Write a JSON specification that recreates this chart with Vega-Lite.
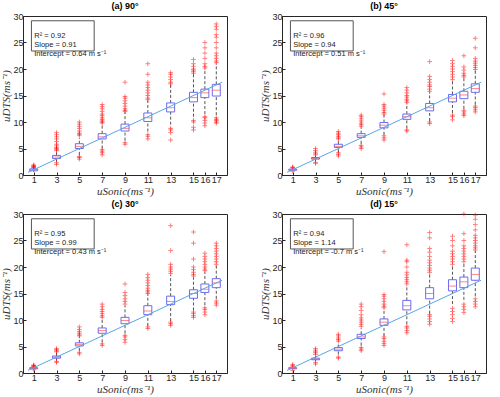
{
  "$schema": "https://vega.github.io/schema/vega-lite/v6.json",
  "padding": {"left": 0, "top": 1, "right": 0, "bottom": 0},
  "background": "white",
  "data": {"values": [
    {"p":"(a) 90°","x":1,"lo":0.6,"q1":0.8,"med":1.0,"q3":1.15,"hi":1.3,"o":[1.35,1.45,1.55,1.65,1.75,1.9],"t":"R² = 0.92\nSlope = 0.91\nIntercept = 0.64 m s⁻¹"},
    {"p":"(a) 90°","x":3,"lo":2.5,"q1":3.1,"med":3.4,"q3":3.7,"hi":4.4,"o":[2.0,2.3,4.6,4.8,5.0,5.2,5.5,5.8,6.3,6.8,7.2,7.6,8.0]},
    {"p":"(a) 90°","x":5,"lo":3.8,"q1":5.0,"med":5.4,"q3":5.9,"hi":7.0,"o":[3.0,3.3,3.5,7.5,7.7,7.9,8.3,8.8,9.2,9.6,10.0]},
    {"p":"(a) 90°","x":7,"lo":5.0,"q1":6.8,"med":7.2,"q3":7.8,"hi":9.5,"o":[3.8,4.2,4.5,4.8,9.8,10.0,10.2,10.5,10.8,11.2,11.5,12.0,12.5,12.9,13.3]},
    {"p":"(a) 90°","x":9,"lo":6.5,"q1":8.3,"med":8.8,"q3":9.6,"hi":11.8,"o":[5.8,6.1,12.0,12.2,12.5,13.0,13.5,14.0,14.5,14.8,17.5]},
    {"p":"(a) 90°","x":11,"lo":8.2,"q1":10.1,"med":10.8,"q3":11.7,"hi":14.0,"o":[6.8,7.3,7.6,14.2,14.5,15.0,15.5,16.0,16.5,17.0,17.5,19.0,21.0]},
    {"p":"(a) 90°","x":13,"lo":9.5,"q1":11.9,"med":12.7,"q3":13.6,"hi":17.0,"o":[6.6,8.0,8.5,8.8,17.2,17.5,18.0,18.5,19.0,19.3]},
    {"p":"(a) 90°","x":15,"lo":11.0,"q1":13.8,"med":14.6,"q3":15.6,"hi":19.0,"o":[8.5,9.0,10.0,10.3,19.2,19.5,19.8,20.0,20.5,21.0,21.8]},
    {"p":"(a) 90°","x":16,"lo":11.5,"q1":14.6,"med":15.5,"q3":16.2,"hi":20.0,"o":[9.3,9.8,10.3,10.8,11.0,20.2,20.5,21.0,22.0,23.0,24.0,25.0]},
    {"p":"(a) 90°","x":17,"lo":11.3,"q1":14.9,"med":16.0,"q3":17.1,"hi":21.0,"o":[9.8,10.0,10.3,10.5,10.8,21.2,21.5,22.0,22.5,23.0,24.0,25.0,26.0,26.5,27.5,28.0,28.5]},
    {"p":"(b) 45°","x":1,"lo":0.8,"q1":0.9,"med":1.0,"q3":1.1,"hi":1.2,"o":[0.7,1.3,1.4,1.5],"t":"R² = 0.96\nSlope = 0.94\nIntercept = 0.51 m s⁻¹"},
    {"p":"(b) 45°","x":3,"lo":2.6,"q1":3.0,"med":3.1,"q3":3.3,"hi":3.6,"o":[2.2,2.4,3.8,4.0,4.3,4.6,5.0]},
    {"p":"(b) 45°","x":5,"lo":4.3,"q1":5.2,"med":5.4,"q3":5.8,"hi":6.5,"o":[3.6,3.9,4.2,6.8,7.0,7.3,7.6,7.9,8.2]},
    {"p":"(b) 45°","x":7,"lo":5.9,"q1":7.1,"med":7.4,"q3":7.8,"hi":9.0,"o":[5.0,5.3,5.6,9.2,9.5,9.8,10.2,10.6,11.0,11.3]},
    {"p":"(b) 45°","x":9,"lo":7.6,"q1":8.9,"med":9.4,"q3":9.9,"hi":11.3,"o":[6.6,7.0,7.4,11.5,11.8,12.2,12.6,13.0,13.3,15.3]},
    {"p":"(b) 45°","x":11,"lo":8.8,"q1":10.5,"med":11.0,"q3":11.5,"hi":13.5,"o":[8.3,8.5,13.7,14.0,14.3,14.7,15.0,15.5,16.0,16.5]},
    {"p":"(b) 45°","x":13,"lo":10.2,"q1":12.1,"med":12.7,"q3":13.5,"hi":15.6,"o":[9.7,10.0,15.8,16.2,16.7,17.0,17.5,18.0,18.6,21.4]},
    {"p":"(b) 45°","x":15,"lo":11.7,"q1":13.8,"med":14.5,"q3":15.2,"hi":17.8,"o":[10.4,11.0,11.3,18.0,18.5,19.0,19.5,20.0,20.5,21.0,21.6]},
    {"p":"(b) 45°","x":16,"lo":12.5,"q1":14.4,"med":15.1,"q3":15.8,"hi":18.2,"o":[11.2,11.5,11.9,12.2,18.5,18.8,19.2,19.8,20.4,22.5]},
    {"p":"(b) 45°","x":17,"lo":13.3,"q1":15.6,"med":16.3,"q3":17.2,"hi":19.7,"o":[11.9,12.3,12.7,13.0,19.9,20.3,20.7,21.1,21.5,22.0,24.0,25.8]},
    {"p":"(c) 30°","x":1,"lo":0.7,"q1":0.8,"med":0.9,"q3":1.0,"hi":1.05,"o":[0.6,1.1,1.2,1.3,1.4,1.5],"t":"R² = 0.95\nSlope = 0.99\nIntercept = 0.43 m s⁻¹"},
    {"p":"(c) 30°","x":3,"lo":2.4,"q1":2.8,"med":3.0,"q3":3.2,"hi":3.8,"o":[2.0,2.2,4.0,4.2,4.4,4.6]},
    {"p":"(c) 30°","x":5,"lo":4.2,"q1":5.1,"med":5.4,"q3":5.7,"hi":6.8,"o":[3.6,3.9,7.0,7.2,7.5,7.8,8.2,8.7]},
    {"p":"(c) 30°","x":7,"lo":5.8,"q1":7.5,"med":8.0,"q3":8.5,"hi":10.2,"o":[5.2,5.5,10.5,10.8,11.2,11.6,12.0,12.5,13.0]},
    {"p":"(c) 30°","x":9,"lo":7.5,"q1":9.3,"med":9.9,"q3":10.5,"hi":12.7,"o":[5.8,6.3,6.8,7.1,13.0,13.5,14.0,14.6,15.2,16.8]},
    {"p":"(c) 30°","x":11,"lo":8.9,"q1":11.0,"med":11.7,"q3":12.7,"hi":14.8,"o":[8.4,8.7,15.0,15.3,15.6,16.0,16.5,17.0,17.5,18.0,18.6]},
    {"p":"(c) 30°","x":13,"lo":9.8,"q1":12.9,"med":13.5,"q3":14.5,"hi":18.5,"o":[9.0,9.3,9.6,18.8,19.2,19.6,20.0,20.5,23.1,27.8]},
    {"p":"(c) 30°","x":15,"lo":11.8,"q1":14.1,"med":15.0,"q3":15.7,"hi":18.0,"o":[10.5,10.8,11.2,11.5,18.3,18.6,19.0,19.5,20.0,21.5,24.5,26.6]},
    {"p":"(c) 30°","x":16,"lo":12.8,"q1":15.2,"med":15.8,"q3":16.8,"hi":19.0,"o":[11.0,11.5,12.0,12.3,19.3,19.6,20.0,20.5,21.0,21.5,22.0,22.6]},
    {"p":"(c) 30°","x":17,"lo":14.0,"q1":16.1,"med":17.0,"q3":17.8,"hi":20.3,"o":[12.8,13.2,13.6,20.5,21.0,21.5,22.0,22.5,23.0,23.5,24.0,24.5]},
    {"p":"(d) 15°","x":1,"lo":0.7,"q1":0.8,"med":0.9,"q3":1.0,"hi":1.1,"o":[0.5,1.2,1.4,1.6],"t":"R² = 0.94\nSlope = 1.14\nIntercept = -0.7 m s⁻¹"},
    {"p":"(d) 15°","x":3,"lo":2.2,"q1":2.5,"med":2.6,"q3":2.8,"hi":3.2,"o":[1.7,2.0,3.5,3.8,4.0,4.3,4.6]},
    {"p":"(d) 15°","x":5,"lo":3.5,"q1":4.2,"med":4.5,"q3":4.8,"hi":5.6,"o":[2.8,3.0,6.0,6.3,6.6,7.0,7.3]},
    {"p":"(d) 15°","x":7,"lo":5.2,"q1":6.5,"med":6.8,"q3":7.3,"hi":8.4,"o":[4.2,4.5,4.8,8.8,9.2,9.6,10.0,10.4,11.0,11.8,12.5,13.0]},
    {"p":"(d) 15°","x":9,"lo":7.0,"q1":9.0,"med":9.6,"q3":10.2,"hi":12.0,"o":[5.2,5.6,6.0,6.5,6.8,12.3,12.6,13.0,13.5,14.0,14.5,14.8,22.9]},
    {"p":"(d) 15°","x":11,"lo":9.2,"q1":11.9,"med":12.7,"q3":13.7,"hi":16.5,"o":[7.6,8.0,8.5,8.8,16.8,17.2,17.6,18.0,18.5,19.0,20.0,21.0,21.3,24.2]},
    {"p":"(d) 15°","x":13,"lo":11.2,"q1":14.0,"med":15.0,"q3":16.1,"hi":18.8,"o":[9.2,9.7,10.2,10.7,11.0,19.0,19.4,19.8,20.3,20.8,21.3,22.0,22.8,23.5,25.5,26.5]},
    {"p":"(d) 15°","x":15,"lo":13.0,"q1":15.5,"med":16.4,"q3":17.6,"hi":20.2,"o":[9.7,10.3,11.0,11.6,12.2,20.5,21.0,21.5,22.0,22.5,23.0,24.0,25.0,25.8]},
    {"p":"(d) 15°","x":16,"lo":13.8,"q1":16.1,"med":17.2,"q3":18.1,"hi":20.8,"o":[11.4,12.0,12.5,13.0,21.0,21.5,22.0,22.5,23.0,23.5,24.0,25.0,26.3,30.0]},
    {"p":"(d) 15°","x":17,"lo":14.5,"q1":17.5,"med":18.6,"q3":19.8,"hi":23.0,"o":[12.5,13.0,13.5,14.0,23.2,23.6,24.0,24.5,25.0,25.5,26.0,27.0,28.0,29.0,29.8]}
  ]},
  "facet": {"field": "p", "type": "nominal", "header": {"title": null, "labelFontWeight": "bold", "labelFontSize": 9, "labelPadding": 1, "labelFont": "Liberation Sans", "labelColor": "#000"}},
  "columns": 2,
  "spacing": {"column": 31, "row": 2},
  "resolve": {"axis": {"x": "independent", "y": "independent"}},
  "spec": {
    "width": 204,
    "height": 159,
    "encoding": {
      "x": {"field": "x", "type": "quantitative", "scale": {"domain": [0.5, 17.5], "nice": false, "zero": false},
            "axis": {"values": [1,3,5,7,9,11,13,15,16,17], "title": "uSonic(ms⁻¹)", "grid": false}},
      "y": {"field": "lo", "type": "quantitative", "scale": {"domain": [0, 30], "nice": false},
            "axis": {"values": [0,5,10,15,20,25,30], "title": "uDTS(ms⁻¹)", "grid": false}}
    },
    "layer": [
      {"mark": {"type": "rule", "strokeDash": [3, 2], "color": "#555", "strokeWidth": 1},
       "encoding": {"y": {"field": "lo", "type": "quantitative"}, "y2": {"field": "q1"}}},
      {"mark": {"type": "rule", "strokeDash": [3, 2], "color": "#555", "strokeWidth": 1},
       "encoding": {"y": {"field": "q3", "type": "quantitative"}, "y2": {"field": "hi"}}},
      {"transform": [{"flatten": ["o"]}],
       "mark": {"type": "point", "shape": "M-1,0H1M0,-1V1", "filled": false, "color": "#ff0000", "strokeWidth": 1, "opacity": 0.5, "size": 22},
       "encoding": {"y": {"field": "o", "type": "quantitative"}}},
      {"mark": {"type": "bar", "size": 8, "fill": "white", "fillOpacity": 0, "stroke": "#6b6bf5", "strokeWidth": 1},
       "encoding": {"y": {"field": "q1", "type": "quantitative"}, "y2": {"field": "q3"}}},
      {"mark": {"type": "tick", "orient": "horizontal", "size": 8, "thickness": 1, "color": "#ff5050"},
       "encoding": {"y": {"field": "med", "type": "quantitative"}}},
      {"transform": [{"filter": "datum.x == 1"}],
       "mark": {"type": "rule", "color": "#5aa5e6", "strokeWidth": 1},
       "encoding": {"x": {"datum": 0.5}, "y": {"datum": 0.5}, "x2": {"datum": 17.5}, "y2": {"datum": 17.5}}},
      {"transform": [{"filter": "datum.x == 1"}],
       "mark": {"type": "rect", "fill": "white", "stroke": "#555", "strokeWidth": 1},
       "encoding": {"x": {"datum": 0.8}, "x2": {"datum": 6.3}, "y": {"datum": 23.4}, "y2": {"datum": 29.1}}},
      {"transform": [{"filter": "datum.x == 1"}],
       "mark": {"type": "text", "align": "left", "baseline": "middle", "lineBreak": "\n", "lineHeight": 9, "fontSize": 7.5, "font": "Liberation Sans", "color": "#222"},
       "encoding": {"x": {"datum": 1.05}, "y": {"datum": 26.25}, "text": {"field": "t"}}}
    ]
  },
  "config": {
    "view": {"stroke": "#262626", "strokeWidth": 1},
    "axis": {"labelFont": "Liberation Sans", "labelFontSize": 9, "labelColor": "#262626", "tickColor": "#262626", "domainColor": "#262626", "tickSize": -3, "labelPadding": 3,
             "titleFont": "Liberation Serif", "titleFontStyle": "italic", "titleFontWeight": "normal", "titleFontSize": 11, "titleColor": "#333", "titlePadding": 1}
  }
}
